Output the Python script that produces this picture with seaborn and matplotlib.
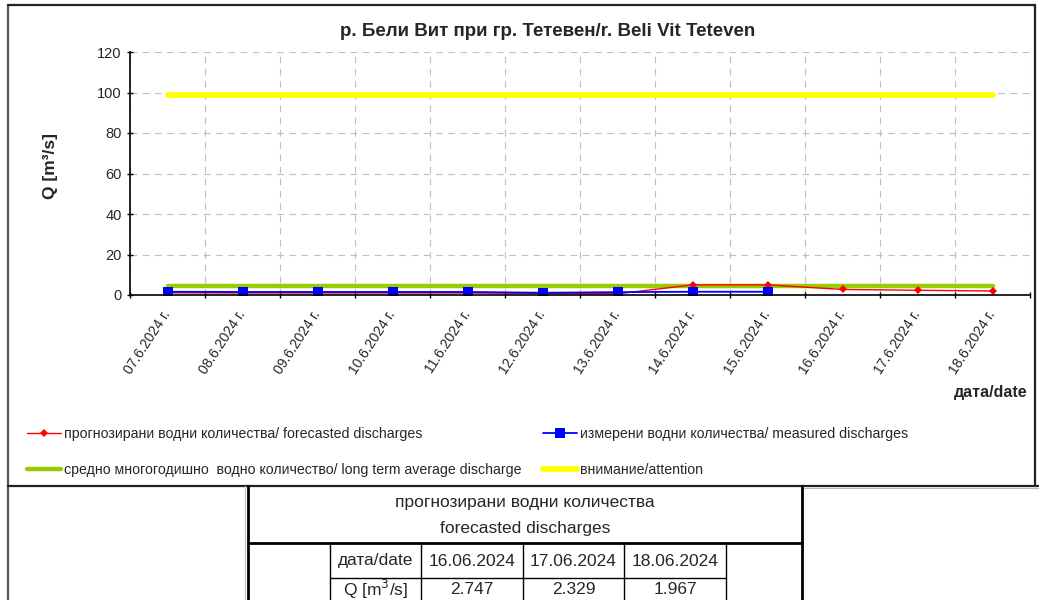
import matplotlib
matplotlib.use('Agg')
import matplotlib.pyplot as plt
import pandas as pd
import seaborn as sns
from matplotlib import font_manager

# data
dates = ['07.6.2024 г.', '08.6.2024 г.', '09.6.2024 г.', '10.6.2024 г.',
         '11.6.2024 г.', '12.6.2024 г.', '13.6.2024 г.', '14.6.2024 г.',
         '15.6.2024 г.', '16.6.2024 г.', '17.6.2024 г.', '18.6.2024 г.']
forecast = [1.1, 1.0, 1.0, 1.0, 1.0, 0.8, 0.6, 5.0, 5.0, 2.747, 2.329, 1.967]
measured = [1.6, 1.5, 1.5, 1.5, 1.5, 1.1, 1.4, 1.6, 1.6, None, None, None]
average = [4.4] * 12
attention = [99] * 12

table_dates = ['16.06.2024', '17.06.2024', '18.06.2024']
table_q = forecast[-3:]

labels = ['прогнозирани водни количества/ forecasted discharges',
          'измерени водни количества/ measured discharges',
          'средно многогодишно  водно количество/ long term average discharge',
          'внимание/attention']

df = pd.DataFrame({'x': range(len(dates)), 'forecast': forecast,
                   'measured': measured, 'average': average,
                   'attention': attention})

sns.set_theme(style='white')
names = {f.name for f in font_manager.fontManager.ttflist}
narrow = 'Liberation Sans Narrow' if 'Liberation Sans Narrow' in names else 'Liberation Sans'
plt.rcParams['font.family'] = ['Liberation Sans', 'DejaVu Sans']

W, H = 1039, 600
fig = plt.figure(figsize=(W / 100, H / 100), dpi=100)

# overlay for frame and table
ov = fig.add_axes([0, 0, 1, 1])
ov.set_xlim(0, W)
ov.set_ylim(H, 0)
ov.axis('off')

ax = fig.add_axes([130 / W, 1 - 295 / H, 900 / W, (295 - 52) / H])
ax.set_facecolor('none')

sns.lineplot(data=df, x='x', y='attention', color='#FFFF00', lw=4.2, ax=ax,
             label=labels[3], legend=False)
sns.lineplot(data=df, x='x', y='average', color='#99CC00', lw=3.2, ax=ax,
             label=labels[2], legend=False)
sns.lineplot(data=df, x='x', y='forecast', color='#FF0000', lw=1.0,
             marker='D', markersize=4, markeredgewidth=0, ax=ax,
             label=labels[0], legend=False)
sns.lineplot(data=df.dropna(), x='x', y='measured', color='#0000FF', lw=1.3,
             marker='s', markersize=6.5, markeredgewidth=0, ax=ax,
             label=labels[1], legend=False)

ax.set_xlim(-0.5, len(dates) - 0.5)
ax.set_ylim(0, 120)
ax.set_yticks(range(0, 121, 20))
ax.set_xticks(range(len(dates)))
ax.set_xticklabels(dates, rotation=57, ha='right', va='center',
                   rotation_mode='anchor', fontsize=10)
ax.set_xticks([i - 0.5 for i in range(len(dates) + 1)], minor=True)
ax.tick_params(axis='x', which='major', length=0, pad=12)
ax.tick_params(axis='x', which='minor', length=5, direction='inout',
               width=1, color='black', bottom=True)
ax.tick_params(axis='y', length=4, direction='inout', width=1, color='black',
               left=True, labelsize=10.5, pad=4)
ax.yaxis.grid(True, ls=(0, (6, 5)), color='#bfbfbf', lw=0.8)
ax.xaxis.grid(True, which='minor', ls=(0, (6, 5)), color='#bfbfbf', lw=0.8)
ax.xaxis.grid(False, which='major')
for s in ['top', 'right']:
    ax.spines[s].set_visible(False)
for s in ['left', 'bottom']:
    ax.spines[s].set_color('black')
    ax.spines[s].set_linewidth(1.2)
ax.set_xlabel('')
ax.set_ylabel('')

fig.text(50 / W, 1 - 166 / H, 'Q [m³/s]', rotation=90, ha='center',
         va='center', fontsize=12.5, fontweight='bold')
fig.text(548 / W, 1 - 31 / H, 'р. Бели Вит при гр. Тетевен/r. Beli Vit Teteven',
         ha='center', va='center', fontsize=13.5, fontweight='bold')
fig.text(1028 / W, 1 - 393 / H, 'дата/date', ha='right', va='center',
         fontsize=11.5, fontweight='bold')

# legend in two columns
h, l = ax.get_legend_handles_labels()
hd = dict(zip(l, h))
for col, (a, b) in enumerate([(labels[0], labels[2]), (labels[1], labels[3])]):
    x0 = [27, 543][col]
    fig.legend([hd[a], hd[b]], [a, b], loc='upper left',
               bbox_to_anchor=(x0 / W, 1 - 427 / H), frameon=False,
               borderpad=0, borderaxespad=0, handlelength=2.4,
               handletextpad=0.2, labelspacing=1.55,
               prop={'family': narrow, 'size': 10.2})

# chart frame
ov.plot([8, 8], [5, 600], color='#555555', lw=1.6)
ov.plot([8, 1035], [5, 5], color='#222222', lw=1.6)
ov.plot([1035, 1035], [5, 486], color='#222222', lw=1.6)
ov.plot([8, 1039], [486, 486], color='#222222', lw=1.6)

# table
cols = [248, 330, 421, 523, 624, 726, 802]
ov.plot([245, 245], [486, 600], color='#bbbbbb', lw=0.8)
ov.plot([cols[0], cols[0]], [486, 600], color='black', lw=2)
ov.plot([cols[-1], cols[-1]], [486, 600], color='black', lw=2)
ov.plot([cols[0], cols[-1]], [543, 543], color='black', lw=2)
ov.plot([cols[1], cols[5]], [578, 578], color='black', lw=1)
for cx in cols[1:6]:
    ov.plot([cx, cx], [543, 600], color='black', lw=1)
ov.plot([cols[-1] + 2, W], [488, 488], color='#bbbbbb', lw=0.8)

tfs = 12.5
ov.text((cols[0] + cols[-1]) / 2, 502, 'прогнозирани водни количества',
        ha='center', va='center', fontsize=tfs)
ov.text((cols[0] + cols[-1]) / 2, 529, 'forecasted discharges',
        ha='center', va='center', fontsize=tfs)
ov.text((cols[1] + cols[2]) / 2, 561, 'дата/date', ha='center', va='center',
        fontsize=tfs)
ov.text((cols[1] + cols[2]) / 2, 589, 'Q [m$^3$/s]', ha='center', va='center',
        fontsize=tfs)
for i, (d, q) in enumerate(zip(table_dates, table_q)):
    cx = (cols[2 + i] + cols[3 + i]) / 2
    ov.text(cx, 561, d, ha='center', va='center', fontsize=tfs)
    ov.text(cx, 590, f'{q:.3f}', ha='center', va='center', fontsize=tfs)

fig.savefig('out.png', dpi=100)
